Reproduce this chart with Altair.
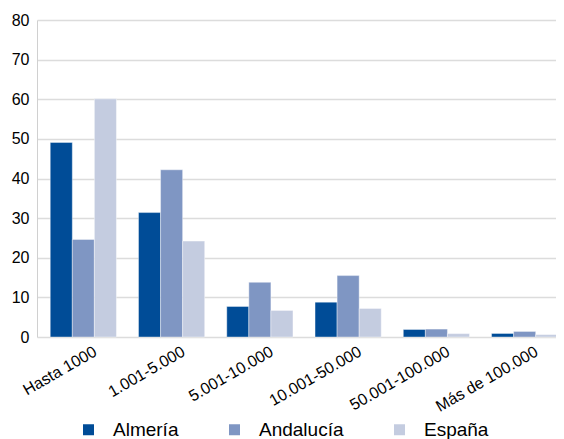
import altair as alt
import pandas as pd

categories = ["Hasta 1000", "1.001-5.000", "5.001-10.000", "10.001-50.000", "50.001-100.000", "Más de 100.000"]
series = ["Almería", "Andalucía", "España"]
almeria = [49.1, 31.4, 7.7, 8.8, 1.9, 0.9]
andalucia = [24.6, 42.2, 13.8, 15.5, 2.0, 1.4]
espana = [60.1, 24.2, 6.7, 7.2, 0.85, 0.6]
colors = ["#004C97", "#7F96C3", "#C4CCE0"]

rows = []
for name, vals in zip(series, [almeria, andalucia, espana]):
    for c, v in zip(categories, vals):
        rows.append({"cat": c, "serie": name, "valor": v})
df = pd.DataFrame(rows)

chart = alt.Chart(df).mark_bar(stroke="white", strokeWidth=0.4).encode(
    x=alt.X("cat:N", sort=categories, title=None,
            scale=alt.Scale(paddingInner=0.25, paddingOuter=0.15, range=[0, 534]),
            axis=alt.Axis(labelAngle=-30, labelAlign="right", labelBaseline="top",
                          labelFontSize=16, labelColor="#000000", ticks=False,
                          domain=False, labelPadding=6, labelOffset=8)),
    xOffset=alt.XOffset("serie:N", sort=series, scale=alt.Scale(paddingInner=0, paddingOuter=0)),
    y=alt.Y("valor:Q", title=None,
            scale=alt.Scale(domain=[0, 80], nice=False),
            axis=alt.Axis(values=[0, 10, 20, 30, 40, 50, 60, 70, 80], labelFontSize=16,
                          labelColor="#000000", ticks=False, domain=True,
                          domainColor="#d0d0d0", labelPadding=8,
                          gridColor="#dcdcdc", gridWidth=1.5)),
    color=alt.Color("serie:N", sort=series, scale=alt.Scale(domain=series, range=colors),
                    legend=alt.Legend(title=None, orient="none", direction="horizontal",
                                      legendX=42, legendY=400, symbolType="square",
                                      symbolSize=121, symbolStrokeWidth=0,
                                      labelFontSize=19, labelColor="#000000",
                                      labelOffset=15, columnPadding=46,
                                      symbolOpacity=1)),
).properties(
    width=519, height=317,
    autosize=alt.AutoSizeParams(type="none"),
    padding={"left": 29, "top": 12, "right": 0, "bottom": 102},
).configure(
    font="Liberation Sans",
).configure_view(
    stroke=None,
)

chart.save("out.html", embed_options={"renderer": "svg", "actions": False})
